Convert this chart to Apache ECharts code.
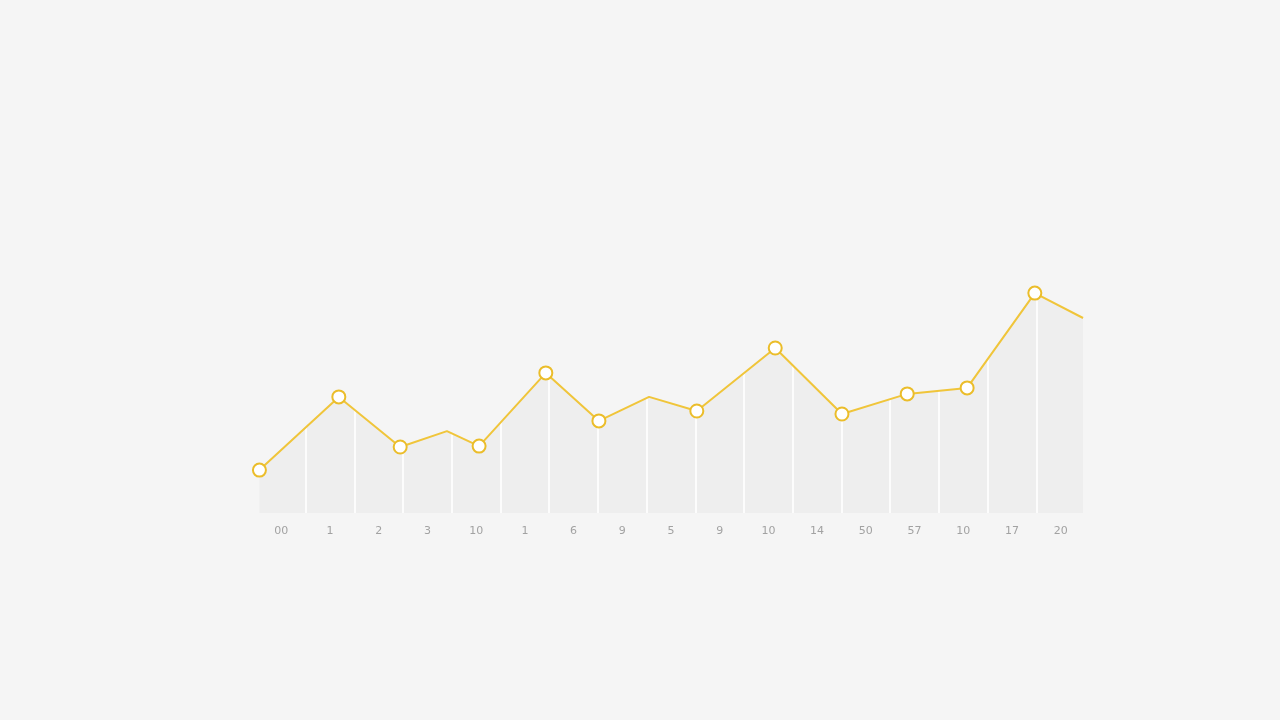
<!DOCTYPE html>
<html>
<head>
<meta charset="utf-8">
<title>line</title>
<script src="https://cdn.jsdelivr.net/npm/echarts@6/dist/echarts.min.js"></script>
<style>
  html, body { margin: 0; padding: 0; background: #f5f5f5; }
  #chart { width: 1280px; height: 720px; }
</style>
</head>
<body>
<div id="chart"></div>
<script>
// tick labels along the bottom
const labels = ['00', '1', '2', '3', '10', '1', '6', '9', '5', '9', '10', '14', '50', '57', '10', '17', '20'];

// line points: position along the axis (in bands) and value
const pointX = [0.05, 1.68, 2.94, 3.9, 4.56, 5.93, 7.02, 8.05, 9.03, 10.64, 12.01, 13.35, 14.58, 15.97, 16.96];
const pointY = [14.3, 38.7, 22, 27.3, 22.3, 46.7, 30.7, 38.7, 34, 55, 33, 39.7, 41.7, 73.3, 65];
// which points carry a hollow marker
const marked = [1, 1, 1, 0, 1, 1, 1, 0, 1, 1, 1, 1, 1, 1, 0];

const BG = '#f5f5f5';

const chart = echarts.init(document.getElementById('chart'));

const pairs = pointX.map((x, i) => [x, pointY[i]]);
const lineData = pairs.map((p, i) => ({
  value: p,
  symbol: marked[i] ? 'circle' : 'none'
}));

chart.setOption({
  backgroundColor: BG,
  animation: false,
  grid: { left: 257, right: 195, top: 213, bottom: 207 },
  xAxis: [
    {
      type: 'category',
      data: labels,
      boundaryGap: true,
      z: 3,
      axisLine: { show: false },
      axisTick: { show: false },
      axisLabel: { color: '#a2a2a2', fontSize: 11, margin: 13, fontFamily: 'DejaVu Sans' },
      splitLine: {
        show: true,
        showMinLine: false,
        showMaxLine: false,
        lineStyle: { color: '#fcfcfc', width: 2 }
      }
    },
    {
      type: 'value',
      min: 0,
      max: 17,
      show: false
    }
  ],
  yAxis: {
    type: 'value',
    min: 0,
    max: 100,
    show: false
  },
  series: [
    // grey fill under the line
    {
      type: 'line',
      xAxisIndex: 1,
      data: pairs,
      z: 2,
      symbol: 'none',
      lineStyle: { width: 0, opacity: 0 },
      areaStyle: { color: '#eeeeee', opacity: 1 },
      silent: true
    },
    // hides the separators above the line
    {
      type: 'line',
      xAxisIndex: 1,
      data: pairs,
      z: 4,
      symbol: 'none',
      lineStyle: { width: 0, opacity: 0 },
      areaStyle: { color: BG, opacity: 1, origin: 'end' },
      silent: true
    },
    // the line itself
    {
      type: 'line',
      xAxisIndex: 1,
      data: lineData,
      z: 5,
      symbolSize: 13,
      lineStyle: { color: '#f0c53a', width: 2 },
      itemStyle: { color: '#ffffff', borderColor: '#ebbd2a', borderWidth: 2 }
    }
  ]
});
</script>
</body>
</html>
